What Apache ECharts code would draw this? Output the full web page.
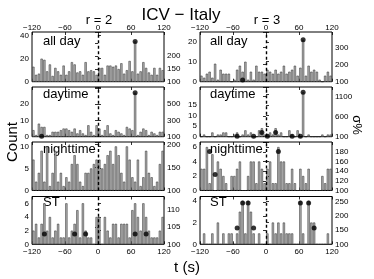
<!DOCTYPE html>
<html><head><meta charset="utf-8">
<script src="https://cdn.jsdelivr.net/npm/echarts@6/dist/echarts.min.js"></script>
<style>html,body{margin:0;padding:0;background:#fff}#c{width:374px;height:279px}</style>
</head><body><div id="c"></div>
<script>
// ---- data ----
const binCenters = [-117.5,-112.5,-107.5,-102.5,-97.5,-92.5,-87.5,-82.5,-77.5,-72.5,-67.5,-62.5,-57.5,-52.5,-47.5,-42.5,-37.5,-32.5,-27.5,-22.5,-17.5,-12.5,-7.5,-2.5,2.5,7.5,12.5,17.5,22.5,27.5,32.5,37.5,42.5,47.5,52.5,57.5,62.5,67.5,72.5,77.5,82.5,87.5,92.5,97.5,102.5,107.5,112.5,117.5];
const timeTicks = [-120,-60,0,60,120];
const panelNames = ['all day','daytime','nighttime','ST'];

const allDayR2   = [13,6,7,20,19,9,15,5,12,9, 6,14,6,9,17,15,8,9,6,17, 9,10,9,6,12,12,6,14,14,13, 14,11,16,7,10,18,9,35,7,9, 17,12,8,6,12,6,12,10];
const allDayR3   = [3,2,4,5,2,9,1,6,4,4, 4,0,1,6,8,5,10,1,5,1, 8,5,5,4,6,5,4,6,4,5, 8,4,5,6,8,3,7,21,3,8, 5,6,5,1,0,3,5,3];
const daytimeR2  = [4,1,8,6,6,1,1,3,3,3, 4,5,5,4,3,5,2,4,2,1, 7,3,1,7,5,1,4,7,2,1, 4,3,2,1,6,5,4,27,1,3, 5,4,1,3,2,1,3,3];
const daytimeR3  = [0,1,0,0,2,0,1,1,2,2, 0,0,1,2,0,1,3,1,2,0, 0,3,4,1,1,2,1,4,1,2, 0,0,3,1,0,3,0,21,0,1, 0,0,0,0,1,0,1,1];
const nighttimeR2= [7,2,4,9,2,10,1,4,9,2, 4,1,3,2,6,8,6,2,1,4, 4,5,6,7,7,5,6,8,9,6, 10,8,4,2,10,7,3,2,7,1, 3,9,4,3,1,2,6,9];
const nighttimeR3= [3,3,6,1,5,0,4,3,2,1, 0,2,2,3,4,0,0,2,4,4, 1,4,3,1,3,4,1,1,6,4, 4,1,1,3,1,0,3,2,1,3, 0,0,0,0,2,1,3,3];
const stR2       = [2,3,1,3,6,2,4,1,2,3, 1,1,6,1,2,3,5,1,6,2, 1,1,0,4,4,0,4,2,1,3, 3,1,3,3,3,1,5,6,4,2, 6,4,2,1,1,1,2,4];
const stR3       = [0,1,0,0,1,0,2,0,1,0, 1,1,0,1,3,4,1,4,3,1, 0,1,0,0,1,0,2,1,2,1, 2,1,1,1,0,0,4,1,0,4, 2,2,0,0,0,0,1,0];

const dotsAllDayR2    = [[67.5,35]];
const dotsAllDayR3    = [[-42.5,0.8],[67.5,21]];
const dotsDaytimeR2   = [[-102.5,0.3],[67.5,27]];
const dotsDaytimeR3   = [[-52.5,0.2],[-22.5,0.2],[-7.5,2],[2.5,0.2],[17.5,2],[47.5,0.2],[62.5,0.2],[67.5,21]];
const dotsNighttimeR2 = [];
const dotsNighttimeR3 = [[-102.5,5.4],[-92.5,2.2],[22.5,5.4]];
const dotsStR2        = [[-97.5,1.5],[-42.5,1.5],[-22.5,1.5],[67.5,1.5],[87.5,1.5]];
const dotsStR3        = [[-52.5,1.5],[-42.5,3.8],[-32.5,3.8],[-22.5,1.5],[62.5,3.8],[77.5,3.8],[87.5,1.5]];

// tick labels
const countTicksAllDayR2 = [0,20,40],  sigmaTicksAllDayR2 = [100,150,200];
const countTicksAllDayR3 = [0,10,20],  sigmaTicksAllDayR3 = [100,200,300];
const countTicksDayR2    = [0,10,20],  sigmaTicksDayR2    = [100,300,500];
const countTicksDayR3    = [0,5,10,15],sigmaTicksDayR3    = [100,600,1100];
const countTicksNightR2  = [0,5,10],   sigmaTicksNightR2  = [100,150,200];
const countTicksNightR3  = [0,2,4,6],  sigmaTicksNightR3  = [100,120,140,160,180];
const countTicksStR2     = [0,2,4,6],  sigmaTicksStR2     = [100,105,110];
const countTicksStR3     = [0,2,4],    sigmaTicksStR3     = [100,150,200,250];

// ---- layout ----
const FONT = '"Liberation Sans", Arial, Helvetica, sans-serif';
const colLeft = [32, 200], colWidth = 132;
const rowTop = [32, 87, 142, 196.5], rowBottom = [81.7, 136.7, 190.5, 244.3];
const labelY = [35, 88, 143, 196];

const panels = [
  {row:0,col:0,bars:allDayR2,dots:dotsAllDayR2,yMax:43.2,yStep:20,yL:countTicksAllDayR2,rMax:293,rStep:50,rL:sigmaTicksAllDayR2},
  {row:0,col:1,bars:allDayR3,dots:dotsAllDayR3,yMax:24.9,yStep:10,yL:countTicksAllDayR3,rMax:392,rStep:100,rL:sigmaTicksAllDayR3},
  {row:1,col:0,bars:daytimeR2,dots:dotsDaytimeR2,yMax:30.5,yStep:10,yL:countTicksDayR2,rMax:710,rStep:200,rL:sigmaTicksDayR2},
  {row:1,col:1,bars:daytimeR3,dots:dotsDaytimeR3,yMax:23.5,yStep:5,yL:countTicksDayR3,rMax:1343,rStep:500,rL:sigmaTicksDayR3},
  {row:2,col:0,bars:nighttimeR2,dots:dotsNighttimeR2,yMax:11,yStep:5,yL:countTicksNightR2,rMax:206,rStep:50,rL:sigmaTicksNightR2},
  {row:2,col:1,bars:nighttimeR3,dots:dotsNighttimeR3,yMax:6.7,yStep:2,yL:countTicksNightR3,rMax:201,rStep:20,rL:sigmaTicksNightR3},
  {row:3,col:0,bars:stR2,dots:dotsStR2,yMax:7.0,yStep:2,yL:countTicksStR2,rMax:113.7,rStep:5,rL:sigmaTicksStR2},
  {row:3,col:1,bars:stR3,dots:dotsStR3,yMax:4.4,yStep:2,yL:countTicksStR3,rMax:270,rStep:50,rL:sigmaTicksStR3}
];

const fmtList = list => v => list.some(x => Math.abs(x - v) < 1e-6) ? String(v).replace('-', '\u2212') : '';
const tick = {show:true, inside:true, length:3, lineStyle:{color:'#000', width:0.8}};
const lbl = (show, margin, list) => ({show, fontSize:8, color:'#000', fontFamily:FONT, margin, formatter: fmtList(list)});

const grid = [], xAxis = [], yAxis = [], series = [], graphic = [];
panels.forEach((p, i) => {
  grid.push({left:colLeft[p.col], top:rowTop[p.row], width:colWidth, height:rowBottom[p.row]-rowTop[p.row],
             show:true, borderColor:'#000', borderWidth:1, backgroundColor:'transparent', containLabel:false});
  xAxis.push({gridIndex:i, type:'value', position:'bottom', min:-120, max:120, interval:60,
              axisLine:{show:false}, axisTick:tick, splitLine:{show:false}, axisLabel:lbl(p.row===3, 3, timeTicks)});
  xAxis.push({gridIndex:i, type:'value', position:'top', min:-120, max:120, interval:60,
              axisLine:{show:false}, axisTick:tick, splitLine:{show:false}, axisLabel:lbl(p.row===0, 0, timeTicks)});
  yAxis.push({gridIndex:i, type:'value', position:'left', min:0, max:p.yMax, interval:p.yStep,
              axisLine:{show:false}, axisTick:tick, splitLine:{show:false}, axisLabel:lbl(true, 3, p.yL)});
  yAxis.push({gridIndex:i, type:'value', position:'right', min:100, max:p.rMax, interval:p.rStep,
              axisLine:{show:false}, axisTick:tick, splitLine:{show:false}, axisLabel:lbl(true, 3, p.rL)});
  series.push({type:'bar', xAxisIndex:2*i, yAxisIndex:2*i, barWidth:2.2,
               data: binCenters.map((t, k) => [t, p.bars[k]]),
               itemStyle:{color:'#b0b0b0', borderColor:'#2a2a2a', borderWidth:0.5},
               markLine:{silent:true, symbol:['none','none'], label:{show:false},
                         lineStyle:{color:'#000', type:[3,2.5], width:1.4}, data:[{xAxis:0}]}});
  series.push({type:'scatter', xAxisIndex:2*i, yAxisIndex:2*i, symbolSize:5, z:5,
               itemStyle:{color:'#000'}, data:p.dots});
  graphic.push({type:'text', x:colLeft[p.col] + (p.col ? 10 : 11), y:labelY[p.row],
                style:{text:panelNames[p.row], fontSize:13, fontFamily:FONT, fill:'#000', align:'left', verticalAlign:'top'}});
});

graphic.push({type:'text', x:181, y:15, style:{text:'ICV \u2212 Italy', fontSize:17, fontFamily:FONT, fill:'#000', align:'center', verticalAlign:'middle'}});
graphic.push({type:'text', x:99, y:20, style:{text:'r = 2', fontSize:13, fontFamily:FONT, fill:'#000', align:'center', verticalAlign:'middle'}});
graphic.push({type:'text', x:267, y:20, style:{text:'r = 3', fontSize:13, fontFamily:FONT, fill:'#000', align:'center', verticalAlign:'middle'}});
graphic.push({type:'text', x:12.5, y:142, rotation:Math.PI/2, style:{text:'Count', fontSize:15, fontFamily:FONT, fill:'#000', align:'center', verticalAlign:'middle'}});
graphic.push({type:'text', x:187, y:268, style:{text:'t (s)', fontSize:15, fontFamily:FONT, fill:'#000', align:'center', verticalAlign:'middle'}});
graphic.push({type:'text', x:357, y:125, rotation:-Math.PI/2, style:{text:'\u03c3%', fontSize:13, fontFamily:FONT, fill:'#000', align:'center', verticalAlign:'middle'}});

const chart = echarts.init(document.getElementById('c'), null, {renderer:'canvas'});
chart.setOption({animation:false, backgroundColor:'#fff', grid, xAxis, yAxis, series, graphic});
</script></body></html>
